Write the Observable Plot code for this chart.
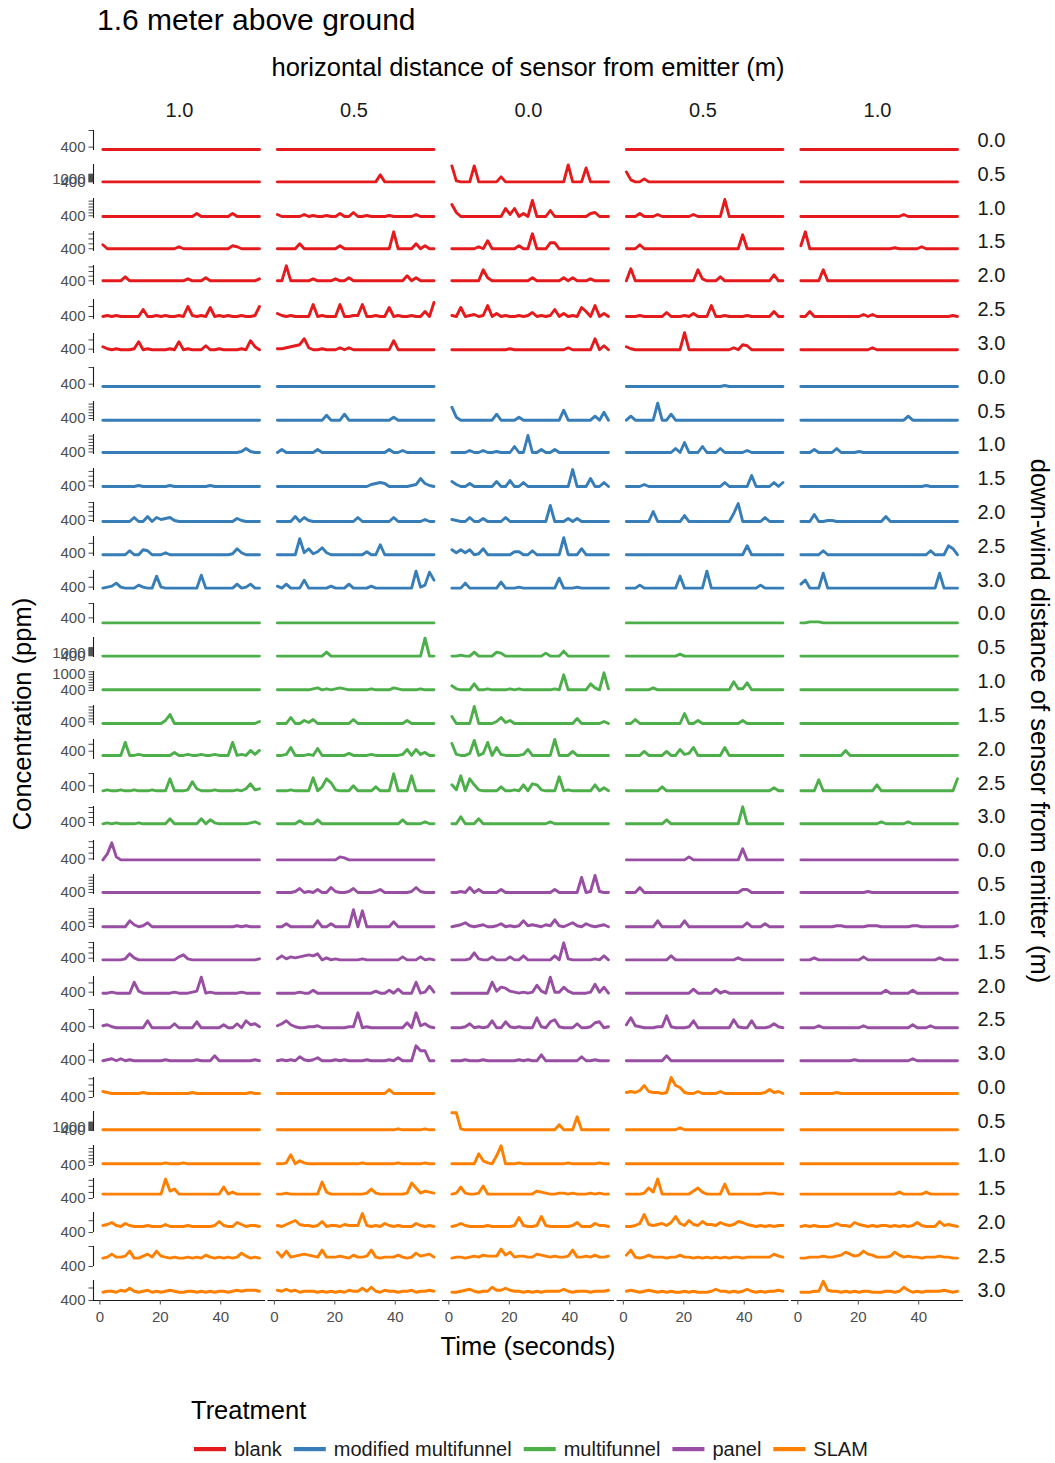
<!DOCTYPE html>
<html><head><meta charset="utf-8">
<script src="https://cdn.jsdelivr.net/npm/d3@7"></script>
<script src="https://cdn.jsdelivr.net/npm/@observablehq/plot@0.6"></script>
<style>
body{margin:0;background:#fff;font-family:"Liberation Sans",Arial,sans-serif;}
#root{position:relative;width:1055px;height:1463px;overflow:hidden;background:#fff;}
#root svg{position:absolute;left:0;}
</style></head><body><div id="root"></div>
<script>
// ---------------- DATA ----------------
const horizontalLabels = ["1.0", "0.5", "0.0", "0.5", "1.0"];
const downwindLabels = ["0.0", "0.5", "1.0", "1.5", "2.0", "2.5", "3.0"];
const treatmentNames = ["blank", "modified multifunnel", "multifunnel", "panel", "SLAM"];
const treatmentColors = ["#E41A1C", "#377EB8", "#4DAF4A", "#984EA3", "#FF7F00"];
const timeTicks = [0, 20, 40];
const timeStart = 1, timeStep = 1.48;
const xDomain = [-2.1, 54.8];
// per row (treatment x down-wind distance): top / bottom of the free y scale and baseline level (ppm)
const yTop = [500, 4000, 990, 750, 730, 570, 570,
  500, 990, 950, 760, 800, 570, 570,
  500, 4000, 1110, 950, 570, 500, 720,
  720, 990, 900, 700, 570, 500, 570,
  720, 4000, 990, 730, 570, 500, 560];
const yBottom = [380, -138, 308, 345, 299, 370, 353,
  380, 296, 321, 344, 356, 366, 366,
  361, 66, 363, 279, 279, 337, 320,
  372, 334, 344, 318, 353, 384, 365,
  400, 211, 400, 400, 400, 400, 400];
const yBaseline = [386, 400, 376, 400, 400, 400, 394,
  386, 341, 384, 385, 378, 384, 390,
  365, 341, 426, 346, 338, 359, 374,
  383, 400, 392, 369, 389, 394, 393,
  464, 533, 450, 473, 451, 442, 466];
// series: each char = concentration above baseline in 1/20ths of the row's y range (base 36), every timeStep seconds
const FLAT = "000000 000000 000000 000000 000000 000000";
const blank = [
  [FLAT, FLAT, null, FLAT, FLAT],
  [FLAT, "000000 000000 000000 000007 000000 000000", "g1000g 000005 000000 000000 00h000 e00000", "a20030 000000 000000 000000 000000 000000", FLAT],
  ["000000 000000 000000 000300 000003 000000", "200000 201001 003004 001000 010000 020000", "c40000 000000 828030 g00060 000000 034000", "000300 020000 000200 0000h0 000000 000000", "000000 000000 000000 000002 000000 000000"],
  ["400000 000000 000002 000000 000003 200000", "000005 000000 003000 000000 00h000 050300", "000000 208000 000300 f00066 000000 000000", "000400 000000 000000 000000 00e000 000000", "3h0000 000000 000000 000100 000200 000000"],
  ["000004 000000 000000 020003 000000 000002", "00f000 002000 020030 000000 000005 030000", "000000 0b3000 000000 300000 030300 020000", "0c0000 000000 0000b2 000400 000000 000600", "00000b 000000 000000 000000 000000 000000"],
  ["010100 000700 101001 0a1010 901010 01001a", "310100 00c010 00c001 1c0010 090100 10050e", "109012 01b030 100101 401017 030109 50b030", "000100 000400 010300 0b0010 000100 000500", "005000 000000 002020 000000 000000 000010"],
  ["310100 018010 000108 010004 001000 010930", "112345 b20010 002020 000000 009000 000000", "000000 000000 010000 000000 002000 00b040", "310000 000000 0h0000 000000 205400 000000", "000000 000000 000020 000000 000000 000000"]
];
const modifiedMultifunnel = [
  [FLAT, FLAT, null, "000000 000000 000000 000010 000000 000000", FLAT],
  [FLAT, "000000 000005 000600 000000 003000 000000", "d30000 000060 000300 000000 0a0000 004080", "040000 0h0060 000000 000000 000000 000000", "000000 000000 000000 000000 400000 000000"],
  ["000000 000000 000000 000000 000000 014100", "030000 000300 000000 000000 030020 000000", "000020 020010 00600h 003003 000000 000000", "000000 000004 0a0006 000400 000200 000000", "000300 004000 010000 000000 000000 000000"],
  ["000000 001000 000100 000000 100000 000000", "000000 000000 000000 000234 300000 128310", "520030 000050 060040 000000 000h00 080040", "000020 000000 000000 000040 0000b0 000404", "000000 000000 000000 000000 000010 000000"],
  ["000000 040050 423410 000000 000000 310000", "000050 410000 000000 400000 004000 000200", "210040 030000 400000 0000g0 003030 000000", "000000 a00000 060000 000000 8i0000 040000", "000700 110000 000000 050000 000000 000000"],
  ["000000 400540 002000 000000 000001 620000", "00000g 261372 000000 00300a 000000 000000", "525250 160000 003300 400000 0h0006 000000", "000000 000000 000000 000000 000900 000000", "000004 000000 000000 000000 000004 000960"],
  ["012510 003100 c10000 0000d0 000000 401400", "204000 800000 200040 000200 000000 0h13g8", "000500 000006 000100 000000 a00010 000000", "000300 000000 c00000 h00000 000000 300000", "48000f 000000 000000 000000 000000 0f0000"]
];
const multifunnel = [
  [FLAT, FLAT, null, FLAT, "001110 000000 000000 000000 000000 000000"],
  [FLAT, "000000 000004 000000 000000 000000 000i00", "001004 000043 000000 000300 050000 000000", "000000 000000 200000 000000 000000 000000", FLAT],
  [FLAT, "000000 001201 012100 000100 002100 001000", "410006 001000 010100 000001 0f0000 0620h1", "000000 200000 000000 000000 811700 000000", FLAT],
  ["000000 000000 003900 000000 000000 000002", "000600 314000 000004 000000 000003 000000", "70000h 000026 130000 000000 000050 000020", "004000 000000 0a0030 000000 003000 000000", FLAT],
  ["00000d 001000 000030 010010 01000d 010515", "001800 010700 000020 000100 000016 061300", "c1002f 02d081 000016 00000g 000400 000000", "000040 000400 612800 000080 000000 000000", "000000 000050 000000 000000 000000 000000"],
  ["010010 010001 000c00 019200 010000 102712", "000100 00d04c 810005 000040 00h000 f00000", "61f0c6 100004 001060 761000 e01000 006030", "000000 004000 000000 000000 000000 000300", "0000b0 000000 000006 000000 000000 00000c"],
  ["010100 001000 000500 000050 410000 000120", "000003 000400 000000 000000 000040 000200", "007000 500000 000000 000020 000000 000000", "000000 000400 000000 000000 00h000 000000", "000000 000000 000000 200000 200000 000000"]
];
const panel = [
  ["06h300 000000 000000 000000 000000 000000", "000000 000000 003200 000000 000000 000000", null, "000000 000000 003000 000000 00b000 000000", FLAT],
  [FLAT, "000014 010300 510014 000013 000000 151000", "001050 300003 000000 000003 00000f 01h100", "000500 000000 000000 000000 003300 000000", "000000 000000 000100 000000 000000 000000"],
  ["000000 620140 000000 000000 000000 101000", "003000 000600 30000h 0g0000 005000 000000", "012410 120013 010161 210217 102410 310120", "000000 060000 060000 000000 000400 030000", "000000 001100 000111 000000 011000 000001"],
  ["000001 620000 000003 510000 000000 000001", "141323 454602 010000 010000 000030 003010", "000017 100300 030040 000004 0h1000 001040", "000000 000040 000000 000000 020000 000000", "000200 000000 003000 000000 000000 020000"],
  ["001000 0b2000 000010 0012g0 100000 010000", "000001 003000 000000 000020 030400 0b0171", "000000 000b26 521010 1820g1 162000 019160", "000000 000000 000400 004020 000000 000000", "000000 000000 000000 030000 030000 000000"],
  ["231000 000070 000040 000600 000300 407341", "247310 011200 000011 f01000 000005 0f2410", "000140 101700 610100 0a1068 100040 015601", "3a2100 011c10 001700 000000 810070 001410", "000020 000000 002000 000000 030002 000000"],
  ["012020 100000 001000 000100 050000 000010", "010104 101300 010100 001000 010300 0faa00", "000100 010000 000101 006000 000004 001000", "000000 000500 000000 000000 000000 000000", "000000 000000 100000 000000 020000 000000"]
];
const slam = [
  ["210000 000100 000000 001000 000000 000100", "000000 000000 000000 000000 040000 000000", null, "121382 1101g8 610020 000200 000000 014120", "000000 001000 000000 000000 000000 000000"],
  [FLAT, "000000 000000 000000 000000 000100 000100", "hh1000 000000 000000 000000 5000d0 000000", "000000 000000 200000 000000 000000 000000", FLAT],
  ["000000 000000 001000 100000 000000 000000", "001903 100000 000000 010000 000100 000100", "000000 a3108i 000100 000000 001000 000100", FLAT, FLAT],
  ["000000 000000 00f350 000000 000702 000000", "001000 0000c2 000000 001510 000001 b61321", "017100 180000 000000 032100 110100 010100", "000016 2f0000 000362 0000a0 000000 011100", "000000 000000 000000 000020 000020 000000"],
  ["124103 100010 002000 010000 015100 420110", "102462 110150 110211 1d1010 310100 031010", "013100 001000 001910 01a100 000140 003110", "0013c2 12314a 316215 221421 254210 101011", "010100 013110 421010 110101 014100 051210"],
  ["014112 700241 721010 010103 101010 152010", "617123 432181 112103 112810 111310 152341", "011012 132229 361221 143212 112811 213112", "381013 111011 311010 101010 110111 111421", "001112 112364 237431 112631 211011 121100"],
  ["011021 410120 101210 011010 101101 212221", "213120 111010 101021 141510 211011 201121", "001231 011522 421101 010111 131011 101112", "121012 101010 010100 013110 101310 101121", "00011b 211010 101100 011015 201011 112101"]
];
const seriesByTreatment = [blank, modifiedMultifunnel, multifunnel, panel, slam];

// ---------------- LAYOUT ----------------
const W = 1055;
const panelLeft = 93, panelRight = 963;
const firstTop = 130, rowPitch = 33.82, panelH = 20;
const FONT = "Liberation Sans, Arial, Helvetica, sans-serif";
const root = document.getElementById("root");
const nRows = treatmentNames.length * downwindLabels.length;

for (let r = 0; r < nRows; r++) {
  const ti = Math.floor(r / downwindLabels.length), di = r % downwindLabels.length;
  const cells = seriesByTreatment[ti][di];
  const rows = [];
  cells.forEach((s, c) => {
    if (!s) return;
    const lv = s.replace(/\s/g, "").split("").map(ch => parseInt(ch, 36));
    lv.forEach((v, i) => rows.push({
      col: c, dist: downwindLabels[di], t: timeStart + i * timeStep,
      ppm: yBaseline[r] + v / 20 * (yTop[r] - yBottom[r])
    }));
  });
  const isFirst = r === 0, isLast = r === nRows - 1;
  const mt = isFirst ? 40 : 3, mb = isLast ? 62 : 3;
  const yTicks = d3.range(400, Math.min(yTop[r], 2000) + 1, 100);
  const marks = [
    Plot.ruleX([{col: 0}], {fx: "col", x: xDomain[0], stroke: "#1a1a1a", strokeWidth: 1.1}),
    Plot.axisY({anchor: "left", facetAnchor: "left", ticks: yTicks,
      tickFormat: d => (d === 400 || d === 1000) ? String(d) : "",
      tickSize: 4.5, tickPadding: 3.5, fontSize: 15, color: "#4d4d4d", label: null}),
    Plot.axisFy({anchor: "right", tickSize: 0, tickPadding: 14, fontSize: 20, color: "#1a1a1a", label: null}),
    Plot.lineY(rows, {x: "t", y: "ppm", fx: "col", fy: "dist", z: "col", stroke: treatmentColors[ti],
      strokeWidth: 2.9, strokeLinejoin: "round", strokeLinecap: "round"})
  ];
  if (isFirst) marks.push(Plot.axisFx({anchor: "top", tickFormat: i => horizontalLabels[i], tickSize: 0,
    tickPadding: 14, fontSize: 20, color: "#1a1a1a", label: null}));
  if (isLast) marks.push(
    Plot.ruleY([yBottom[r]], {stroke: "#1a1a1a", strokeWidth: 1.1}),
    Plot.axisX({anchor: "bottom", facetAnchor: "bottom", ticks: timeTicks, tickSize: 4.5, tickPadding: 6,
      fontSize: 15, color: "#4d4d4d", label: null})
  );
  const chart = Plot.plot({
    width: W, height: mt + panelH + mb,
    marginTop: mt, marginBottom: mb, marginLeft: panelLeft, marginRight: W - panelRight,
    style: {fontFamily: FONT, background: "transparent", overflow: "visible"},
    fx: {domain: [0, 1, 2, 3, 4], paddingInner: 0.0143, paddingOuter: 0, round: false, axis: isFirst ? undefined : null},
    fy: {domain: [downwindLabels[di]], paddingInner: 0, paddingOuter: 0, round: false},
    x: {domain: xDomain, axis: isLast ? undefined : null},
    y: {domain: [yBottom[r], yTop[r]]},
    marks
  });
  chart.style.position = "absolute";
  chart.style.top = (firstTop + r * rowPitch - mt) + "px";
  chart.style.left = "0px";
  root.appendChild(chart);
}

// ---------------- TEXT OVERLAY (titles, legend) ----------------
const ns = "http://www.w3.org/2000/svg";
const ov = document.createElementNS(ns, "svg");
ov.setAttribute("width", W); ov.setAttribute("height", 1463);
ov.style.position = "absolute"; ov.style.top = "0px"; ov.style.pointerEvents = "none";
ov.style.fontFamily = FONT;
root.appendChild(ov);
function txt(s, x, y, size, opts = {}) {
  const t = document.createElementNS(ns, "text");
  t.textContent = s;
  t.setAttribute("x", x); t.setAttribute("y", y);
  t.setAttribute("font-size", size);
  t.setAttribute("fill", opts.fill || "#000");
  if (opts.anchor) t.setAttribute("text-anchor", opts.anchor);
  if (opts.rotate) t.setAttribute("transform", `rotate(${opts.rotate} ${x} ${y})`);
  ov.appendChild(t);
  return t;
}
txt("1.6 meter above ground", 97, 30, 30);
txt("horizontal distance of sensor from emitter (m)", 528, 75.5, 25.5, {anchor: "middle"});
txt("Time (seconds)", 528, 1355, 25.5, {anchor: "middle"});
txt("Concentration (ppm)", 31, 714, 25.5, {anchor: "middle", rotate: -90});
txt("down-wind distance of sensor from emitter (m)", 1031, 721, 25.5, {anchor: "middle", rotate: 90});
txt("Treatment", 191, 1419, 25.5);
let lx = 194;
treatmentNames.forEach((name, i) => {
  const rect = document.createElementNS(ns, "rect");
  rect.setAttribute("x", lx); rect.setAttribute("y", 1447);
  rect.setAttribute("width", 32); rect.setAttribute("height", 4.2);
  rect.setAttribute("fill", treatmentColors[i]);
  ov.appendChild(rect);
  const t = txt(name, lx + 40, 1456, 20, {fill: "#1a1a1a"});
  lx = lx + 40 + t.getComputedTextLength() + 12;
});
</script></body></html>
